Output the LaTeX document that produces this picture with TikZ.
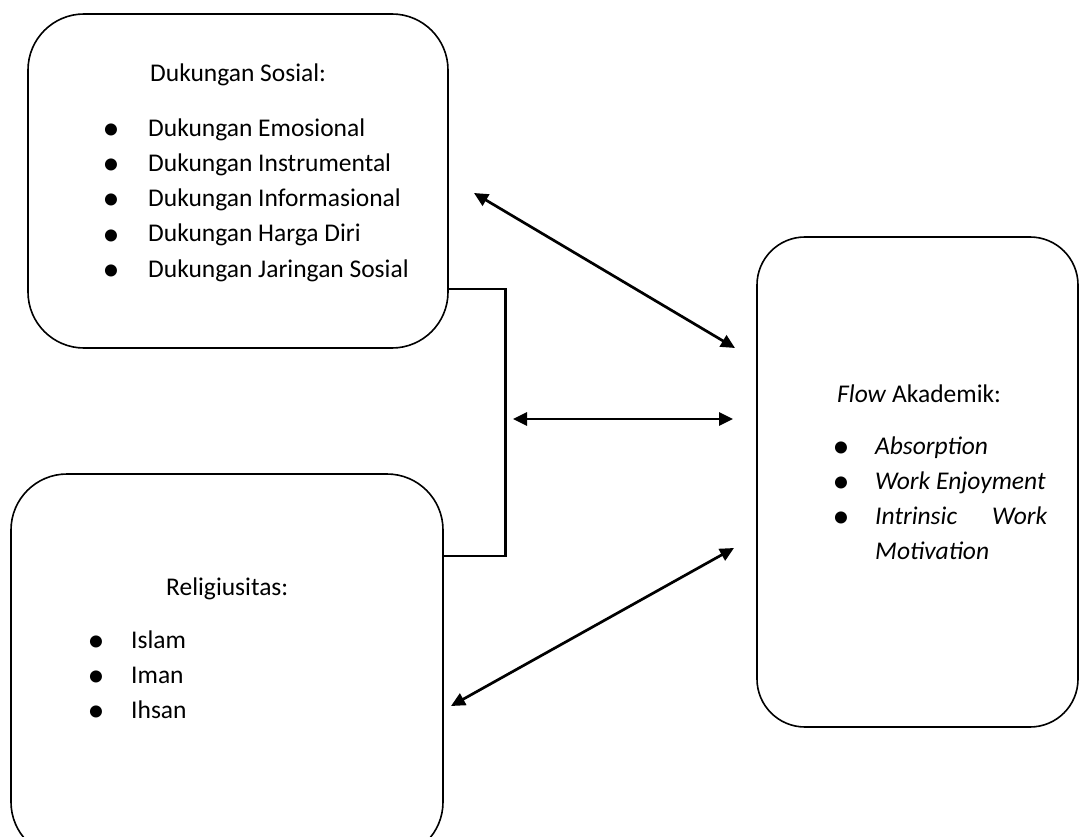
\documentclass[tikz,border=0pt]{standalone}
\usepackage{fontspec}
\setmainfont{Carlito}
\usetikzlibrary{arrows.meta,positioning}

\tikzset{
    panel/.style={draw, line width=1.6pt, inner sep=0pt},
    headtext/.style={anchor=base west, inner sep=0pt, font=\fontsize{25.5}{30}\selectfont},
    itemtext/.style={anchor=base west, inner sep=0pt, font=\fontsize{25.5}{30}\selectfont},
    bullet/.style={anchor=base, inner sep=0pt, yshift=-3pt, font=\fontsize{34}{34}\selectfont},
    link/.style={line width=2.7pt, {Triangle[length=14pt,width=13pt]}-{Triangle[length=14pt,width=13pt]}},
    bracket/.style={line width=2.7pt}
}

\begin{document}
\begin{tikzpicture}[x=1pt, y=-1pt]
    \useasboundingbox (0,0) rectangle (1079,837);

    % === Dukungan Sosial ===
    \node[panel, rounded corners=56pt, minimum width=420pt, minimum height=334pt] (sosial) at (238,181) {};
    \node[headtext] (sosialhead) at (150,82) {Dukungan Sosial:};
    \foreach \txt/\yy [count=\i] in {Dukungan Emosional/137, Dukungan Instrumental/172,
        Dukungan Informasional/207, Dukungan Harga Diri/242, Dukungan Jaringan Sosial/277} {
        \node[bullet] (sosialdot\i) at (111,\yy) {•};
        \node[itemtext] (sosialitem\i) at (148,\yy) {\txt};
    }

    % === Religiusitas ===
    \node[panel, rounded corners=56pt, minimum width=432pt, minimum height=384pt] (religi) at (227,666) {};
    \node[headtext] (religihead) at (166,595) {Religiusitas:};
    \foreach \txt/\yy [count=\i] in {Islam/648, Iman/683, Ihsan/718} {
        \node[bullet] (religidot\i) at (96,\yy) {•};
        \node[itemtext] (religiitem\i) at (131,\yy) {\txt};
    }

    % === Flow Akademik ===
    \node[panel, rounded corners=48pt, minimum width=321pt, minimum height=490pt] (flow) at (917.5,482) {};
    \node[headtext] (flowhead) at (837,402) {\textit{Flow} Akademik:};
    \foreach \yy [count=\i] in {454,489,524} {
        \node[bullet] (flowdot\i) at (841,\yy) {•};
    }
    \node[itemtext, font=\fontsize{25.5}{30}\selectfont\itshape] (flowitem1) at (875,454) {Absorption};
    \node[itemtext, font=\fontsize{25.5}{30}\selectfont\itshape] (flowitem2) at (875,489) {Work Enjoyment};
    \node[itemtext, font=\fontsize{25.5}{30}\selectfont\itshape] (flowitem3) at (875,524) {\hbox to 172pt{Intrinsic\hfill Work}};
    \node[itemtext, font=\fontsize{25.5}{30}\selectfont\itshape] (flowitem4) at (875,559) {Motivation};

    % Bracket joining the two left boxes
    \path (sosial.east) ++(0,108) coordinate (sosialout);
    \path (religi.east) ++(0,-110) coordinate (religiout);
    \draw[bracket] (sosialout) -- ++(57,0) |- (religiout);

    % Arrow ends
    \coordinate (sosialtip) at (474,193);
    \coordinate (flowtipa) at (735,348);
    \coordinate (brackettip) at (513,419);
    \coordinate (flowtipb) at (733,419);
    \coordinate (religitip) at (451,706);
    \coordinate (flowtipc) at (734,548);

    \draw[link] (sosialtip) -- (flowtipa);
    \draw[link] (brackettip) -- (flowtipb);
    \draw[link] (religitip) -- (flowtipc);
\end{tikzpicture}
\end{document}
